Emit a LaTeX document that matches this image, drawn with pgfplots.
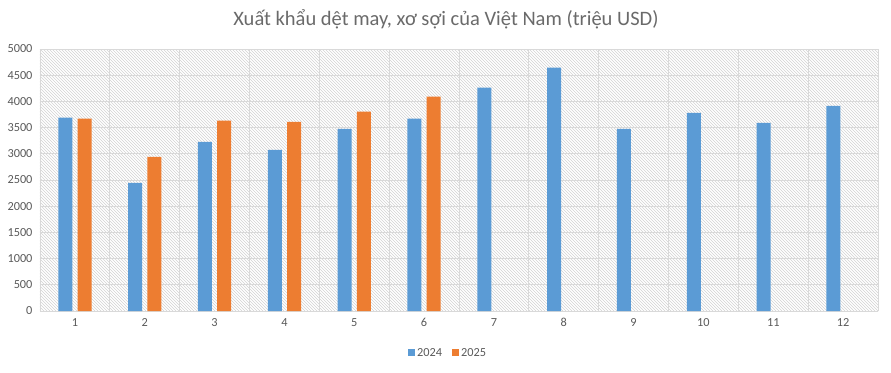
\documentclass[border=0pt]{standalone}
\usepackage{pgfplots}
\pgfplotsset{compat=1.18}
\usetikzlibrary{patterns}
\usepackage{fontspec}
\setmainfont{Carlito}
\definecolor{cblue}{HTML}{5B9BD5}
\definecolor{corange}{HTML}{ED7D31}
\definecolor{txt}{HTML}{595959}
\definecolor{grd}{HTML}{D9D9D9}
\begin{document}
\begin{tikzpicture}[x=1pt,y=1pt]
\path[use as bounding box] (-40,-61) rectangle (851,311);
\node[font=\fontsize{20.5}{22}\selectfont, text=txt!90] at (406,292) {Xuất khẩu dệt may, xơ sợi của Việt Nam (triệu USD)};
\begin{axis}[
  at={(0,0)}, anchor=south west,
  scale only axis, width=838pt, height=262pt,
  xmin=0.5, xmax=12.5, ymin=0, ymax=5000,
  ybar, bar width=14pt,
  xtick={1,...,12},
  minor xtick={0.5,1.5,...,12.5},
  ytick={0,500,...,5000},
  ymajorgrids, xminorgrids,
  grid style={grd, line width=0.8pt},
  minor grid style={grd, line width=0.8pt},
  axis line style={draw=none},
  axis x line*=bottom,
  x axis line style={grd, line width=0.8pt},
  major tick length=0pt, minor tick length=0pt,
  tick style={draw=none},
  ticklabel style={font=\fontsize{12.3}{13}\selectfont, text=txt},
  /pgf/number format/assume math mode=true,
  /pgf/number format/1000 sep={},
  yticklabel style={xshift=-4pt},
  xticklabel style={yshift=-4pt},
  axis background/.style={pattern=north west lines, pattern color=gray!35},
  legend style={at={(axis description cs:0.487,-0.16)}, anchor=center, draw=none, fill=none,
    legend columns=2, font=\fontsize{12.3}{13}\selectfont, text=txt,
    /tikz/every even column/.append style={column sep=8pt}},
  legend image code/.code={\fill[#1] (0pt,-3.5pt) rectangle (7pt,3.5pt);},
]
\addplot[fill=cblue, draw=none, bar shift=-9.6pt] coordinates {
(1,3690) (2,2446) (3,3229) (4,3076) (5,3478) (6,3669) (7,4261) (8,4643) (9,3478) (10,3783) (11,3592) (12,3917)};
\addplot[fill=corange, draw=none, bar shift=9.6pt] coordinates {
(1,3669) (2,2943) (3,3631) (4,3611) (5,3803) (6,4089)};
\legend{2024,2025}
\end{axis}
\end{tikzpicture}
\end{document}
